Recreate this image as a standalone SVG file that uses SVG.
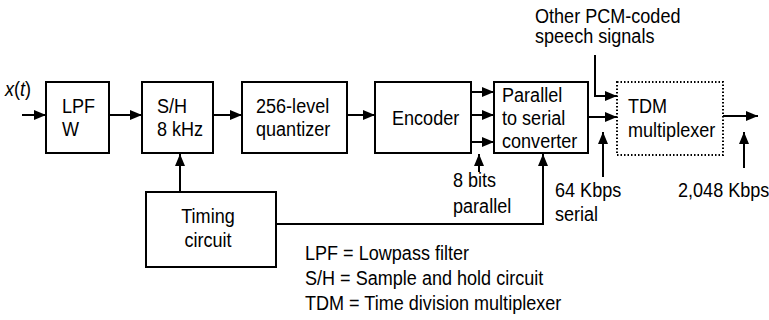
<svg xmlns="http://www.w3.org/2000/svg" width="769" height="320" viewBox="0 0 769 320">
<defs>
<style>
.box{fill:#fff;stroke:#000;stroke-width:2}
.dot{fill:#fff;stroke:#000;stroke-width:2;stroke-dasharray:1.5 2}
.c{fill:none;stroke:#000;stroke-width:2}
.a{marker-end:url(#ah)}
text{font-family:"Liberation Sans",Arial,sans-serif;font-size:21px;fill:#000}
</style>
<marker id="ah" viewBox="0 0 12 10" refX="12" refY="5" markerWidth="12" markerHeight="10" markerUnits="userSpaceOnUse" orient="auto">
<path d="M0,0 L12,5 L0,10 z" fill="#000"/>
</marker>
</defs>
<rect width="769" height="320" fill="#fff"/>
<g id="connectors">
<path class="c a" d="M22,115 H46"/>
<path class="c a" d="M109,115 H142"/>
<path class="c a" d="M213,115 H242"/>
<path class="c a" d="M347,115 H375"/>
<path class="c a" d="M471,92 H494"/>
<path class="c a" d="M471,115 H494"/>
<path class="c a" d="M471,142 H494"/>
<path class="c a" d="M588,117 H617"/>
<path class="c a" d="M595,55 V96 H617"/>
<path class="c a" d="M723,116 H758"/>
<path class="c a" d="M180,192 V154"/>
<path class="c a" d="M276,224 H543 V154"/>
<path class="c a" d="M479,172 V154"/>
<path class="c a" d="M603,177 V132"/>
<path class="c a" d="M744,168 V132"/>
</g>
<g id="input-label">
<text transform="scale(0.86,1)" x="5.81" y="96"><tspan font-style="italic">x</tspan>(<tspan font-style="italic">t</tspan>)</text>
</g>
<g id="lpf">
<rect class="box" x="46" y="82" width="63" height="71"/>
<text transform="scale(0.86,1)" x="72.09" y="113">LPF</text>
<text transform="scale(0.86,1)" x="72.09" y="136">W</text>
</g>
<g id="sh">
<rect class="box" x="142" y="82" width="71" height="71"/>
<text transform="scale(0.86,1)" x="182.56" y="113">S/H</text>
<text transform="scale(0.86,1)" x="182.56" y="136">8 kHz</text>
</g>
<g id="quantizer">
<rect class="box" x="242" y="82" width="105" height="71"/>
<text transform="scale(0.86,1)" x="297.67" y="113">256-level</text>
<text transform="scale(0.86,1)" x="297.67" y="136">quantizer</text>
</g>
<g id="encoder">
<rect class="box" x="375" y="82" width="96" height="71"/>
<text transform="scale(0.86,1)" x="455.81" y="125">Encoder</text>
</g>
<g id="p2s">
<rect class="box" x="494" y="82" width="94" height="71"/>
<text transform="scale(0.86,1)" x="583.72" y="102">Parallel</text>
<text transform="scale(0.86,1)" x="583.72" y="125">to serial</text>
<text transform="scale(0.86,1)" x="583.72" y="148">converter</text>
</g>
<g id="tdm">
<rect class="dot" x="617" y="82" width="106" height="73"/>
<text transform="scale(0.86,1)" x="730.23" y="113">TDM</text>
<text transform="scale(0.86,1)" x="730.23" y="137">multiplexer</text>
</g>
<g id="timing">
<rect class="box" x="146" y="192" width="130" height="75"/>
<text transform="scale(0.86,1)" x="241.86" y="223" text-anchor="middle">Timing</text>
<text transform="scale(0.86,1)" x="241.86" y="247" text-anchor="middle">circuit</text>
</g>
<g id="labels">
<text transform="scale(0.86,1)" x="622.09" y="23">Other PCM-coded</text>
<text transform="scale(0.86,1)" x="622.09" y="43">speech signals</text>
<text transform="scale(0.86,1)" x="526.74" y="187">8 bits</text>
<text transform="scale(0.86,1)" x="526.74" y="213">parallel</text>
<text transform="scale(0.86,1)" x="645.35" y="197">64 Kbps</text>
<text transform="scale(0.86,1)" x="645.35" y="221">serial</text>
<text transform="scale(0.86,1)" x="788.37" y="197">2,048 Kbps</text>
</g>
<g id="legend">
<text transform="scale(0.86,1)" x="354.65" y="260">LPF = Lowpass filter</text>
<text transform="scale(0.86,1)" x="354.65" y="285">S/H = Sample and hold circuit</text>
<text transform="scale(0.86,1)" x="354.65" y="310">TDM = Time division multiplexer</text>
</g>
</svg>
